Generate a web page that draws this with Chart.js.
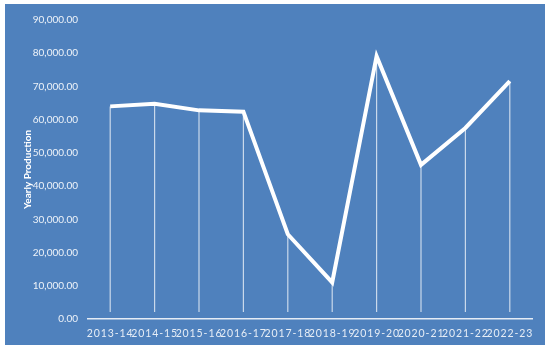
<!DOCTYPE html>
<html>
<head>
<meta charset="utf-8">
<script src="https://cdn.jsdelivr.net/npm/chart.js@4/dist/chart.umd.min.js"></script>
<style>
  html, body { margin: 0; padding: 0; background: #ffffff; }
  #wrap { position: absolute; left: 5px; top: 4px; width: 540px; height: 341px; background: #4F81BD; }
  canvas { display: block; }
</style>
</head>
<body>
<div id="wrap"><canvas id="c" width="540" height="341"></canvas></div>
<script>
const categories = ["2013-14","2014-15","2015-16","2016-17","2017-18","2018-19","2019-20","2020-21","2021-22","2022-23"];
const yearlyProduction = [64000, 64800, 62800, 62400, 25500, 11000, 79100, 46400, 57500, 71600];
const yTickValues = [0, 10000, 20000, 30000, 40000, 50000, 60000, 70000, 80000, 90000];
const yTitle = "Yearly Production";

const dropLines = {
  id: 'dropLines',
  beforeDatasetsDraw(chart) {
    const ctx = chart.ctx;
    const meta = chart.getDatasetMeta(0);
    const yZero = chart.scales.y.getPixelForValue(0);
    ctx.save();
    ctx.strokeStyle = 'rgba(255,255,255,0.7)';
    ctx.lineWidth = 1.2;
    meta.data.forEach(pt => {
      ctx.beginPath();
      ctx.moveTo(pt.x, pt.y);
      ctx.lineTo(pt.x, yZero - 7);
      ctx.stroke();
    });
    ctx.restore();
  },
  afterDatasetsDraw(chart) {
    if ('letterSpacing' in chart.ctx) chart.ctx.letterSpacing = '0.9px';
  },
  afterDraw(chart) {
    if ('letterSpacing' in chart.ctx) chart.ctx.letterSpacing = '0px';
  }
};

new Chart(document.getElementById('c'), {
  type: 'line',
  data: {
    labels: categories,
    datasets: [{
      data: yearlyProduction,
      borderColor: '#ffffff',
      borderWidth: 4,
      pointRadius: 0,
      tension: 0,
      fill: false
    }]
  },
  options: {
    responsive: false,
    animation: false,
    devicePixelRatio: 1,
    layout: { padding: { left: 10, top: 9, right: 13, bottom: 0 } },
    plugins: { legend: { display: false }, tooltip: { enabled: false } },
    scales: {
      x: {
        offset: true,
        grid: { display: false, drawTicks: false },
        border: { display: true, color: 'rgba(255,255,255,0.85)', width: 1.5 },
        ticks: {
          z: 1,
          color: '#e6edf6',
          font: { family: 'Lato', size: 10.5 },
          padding: 8,
          maxRotation: 0,
          autoSkip: false
        },
        afterFit(s) { s.height = 26; }
      },
      y: {
        min: 0, max: 90000,
        afterBuildTicks(s) { s.ticks = yTickValues.map(v => ({ value: v })); },
        grid: { display: false, drawTicks: false },
        border: { display: false },
        ticks: {
          color: '#eef3f9',
          font: { family: 'Lato', size: 10 },
          padding: 10,
          callback: v => Number(v).toLocaleString('en-US', { minimumFractionDigits: 2, maximumFractionDigits: 2 })
        },
        title: {
          display: true,
          text: yTitle,
          color: '#ffffff',
          font: { family: 'Lato', size: 10, weight: 'bold' },
          padding: { top: 7, bottom: 0 }
        },
        afterFit(s) { s.width = 73; }
      }
    }
  },
  plugins: [dropLines]
});
</script>
</body>
</html>
